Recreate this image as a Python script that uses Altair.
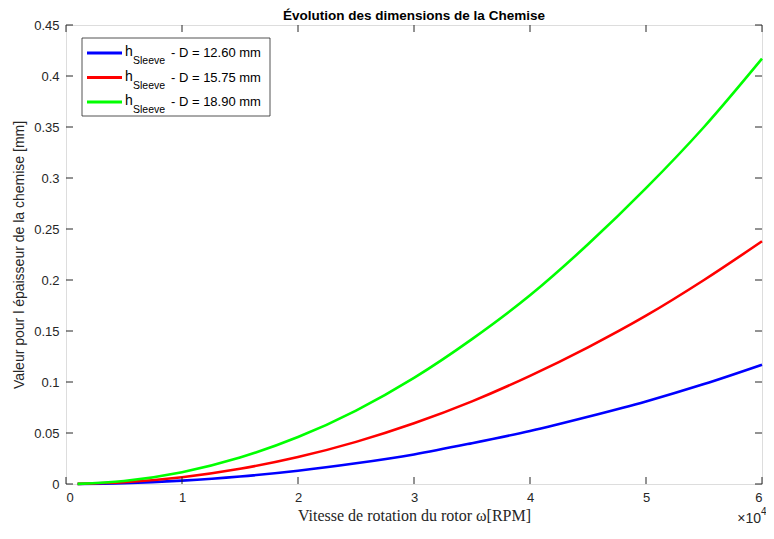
import altair as alt
import pandas as pd

rpm = [1000, 5000, 10000, 15000, 20000, 25000, 30000, 35000, 40000, 45000, 50000, 55000, 60000]
h_126 = [0.00003, 0.0008, 0.0033, 0.0073, 0.013, 0.0203, 0.029, 0.040, 0.052, 0.066, 0.081, 0.098, 0.117]
h_1575 = [0.0001, 0.0017, 0.0066, 0.0149, 0.0264, 0.0413, 0.0595, 0.081, 0.106, 0.134, 0.165, 0.200, 0.238]
h_189 = [0.0001, 0.003, 0.0116, 0.026, 0.046, 0.072, 0.104, 0.142, 0.185, 0.235, 0.290, 0.350, 0.417]

series_names = ["D = 12.60 mm", "D = 15.75 mm", "D = 18.90 mm"]
series_values = [h_126, h_1575, h_189]
series_colors = ["#0000FF", "#FF0000", "#00FF00"]

x_ticks = [0, 10000, 20000, 30000, 40000, 50000, 60000]
y_ticks = [0, 0.05, 0.1, 0.15, 0.2, 0.25, 0.3, 0.35, 0.4, 0.45]

TITLE = "Évolution des dimensions de la Chemise"

W, H = 696, 459
FONT = "Liberation Sans"
AX = "#262626"

rows = []
for name, vals in zip(series_names, series_values):
    for x, y in zip(rpm, vals):
        rows.append({"rpm": x, "h": y, "serie": name})
df = pd.DataFrame(rows)

xs = alt.Scale(domain=[0, 60000], nice=False, zero=False)
ys = alt.Scale(domain=[0, 0.45], nice=False)

lines = alt.Chart(df).mark_line(strokeWidth=2.6, interpolate="monotone").encode(
    x=alt.X("rpm:Q", scale=xs,
            axis=alt.Axis(values=x_ticks, labelExpr="datum.value / 10000", ticks=False,
                          grid=False, domain=False, labelPadding=7, labelFontSize=13,
                          labelFont=FONT, labelColor=AX,
                          title="Vitesse de rotation du rotor ω[RPM]",
                          titleFont="Liberation Serif", titleFontSize=16,
                          titleFontWeight="normal", titleColor=AX, titlePadding=3)),
    y=alt.Y("h:Q", scale=ys,
            axis=alt.Axis(values=y_ticks, format=".2~f", ticks=False, grid=False,
                          domain=False, labelPadding=7, labelFontSize=13,
                          labelFont=FONT, labelColor=AX,
                          title="Valeur pour l épaisseur de la chemise [mm]",
                          titleFont=FONT, titleFontSize=14, titleFontWeight="normal",
                          titleColor=AX, titlePadding=7)),
    color=alt.Color("serie:N", scale=alt.Scale(domain=series_names, range=series_colors),
                    legend=None),
)

xt = pd.DataFrame({"t": x_ticks})
yt = pd.DataFrame({"t": y_ticks})
tick_bottom = alt.Chart(xt).mark_rule(color=AX, strokeWidth=1).encode(
    x=alt.X("t:Q", scale=xs), y=alt.value(H), y2=alt.value(H - 7))
tick_top = alt.Chart(xt).mark_rule(color=AX, strokeWidth=1).encode(
    x=alt.X("t:Q", scale=xs), y=alt.value(0), y2=alt.value(7))
tick_left = alt.Chart(yt).mark_rule(color=AX, strokeWidth=1).encode(
    y=alt.Y("t:Q", scale=ys), x=alt.value(0), x2=alt.value(7))
tick_right = alt.Chart(yt).mark_rule(color=AX, strokeWidth=1).encode(
    y=alt.Y("t:Q", scale=ys), x=alt.value(W), x2=alt.value(W - 7))

one = pd.DataFrame({"a": [0]})
leg_box = alt.Chart(one).mark_rect(fill="white", stroke=AX, strokeWidth=0.8).encode(
    x=alt.value(16), x2=alt.value(204), y=alt.value(13), y2=alt.value(91))

legend_layers = [leg_box]
for i, (name, col) in enumerate(zip(series_names, series_colors)):
    yc = 28 + 24.5 * i
    legend_layers.append(alt.Chart(one).mark_rule(color=col, strokeWidth=3).encode(
        x=alt.value(21), x2=alt.value(56), y=alt.value(yc)))
    legend_layers.append(alt.Chart(one).mark_text(
        text="h", font=FONT, fontSize=14, color="black", align="left", baseline="middle").encode(
        x=alt.value(59), y=alt.value(yc - 1)))
    legend_layers.append(alt.Chart(one).mark_text(
        text="Sleeve", font=FONT, fontSize=10.5, color="black", align="left", baseline="middle").encode(
        x=alt.value(67), y=alt.value(yc + 8)))
    legend_layers.append(alt.Chart(one).mark_text(
        text="- " + name, font=FONT, fontSize=13, color="black", align="left", baseline="middle").encode(
        x=alt.value(105), y=alt.value(yc)))

exp_base = alt.Chart(one).mark_text(
    text="×10", font=FONT, fontSize=14, color=AX, align="right", baseline="middle").encode(
    x=alt.value(W - 1), y=alt.value(H + 35))
exp_sup = alt.Chart(one).mark_text(
    text="4", font=FONT, fontSize=10, color=AX, align="left", baseline="middle").encode(
    x=alt.value(W - 1), y=alt.value(H + 28))

title_mark = alt.Chart(one).mark_text(
    text=TITLE, font=FONT, fontSize=13.5, fontWeight="bold", color="black",
    align="center", baseline="alphabetic").encode(
    x=alt.value(W / 2), y=alt.value(-5))

chart = alt.layer(
    lines, tick_bottom, tick_top, tick_left, tick_right, *legend_layers, exp_base, exp_sup,
    title_mark
).properties(
    width=W, height=H,
    autosize=alt.AutoSizeParams(type="none"),
    padding={"left": 58, "top": 17, "right": 4, "bottom": 42},
).configure_view(stroke=AX, strokeWidth=1).configure(background="white")

chart.save("out.html", embed_options={"renderer": "svg", "actions": False})
